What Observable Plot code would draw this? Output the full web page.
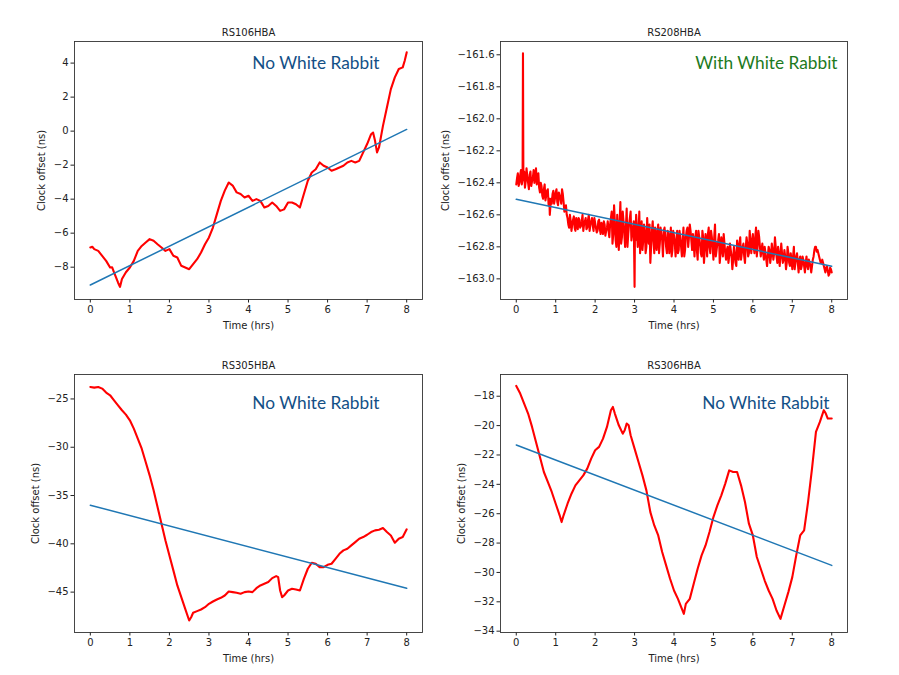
<!DOCTYPE html>
<html><head><meta charset="utf-8">
<script src="https://cdn.jsdelivr.net/npm/d3@7"></script>
<script src="https://cdn.jsdelivr.net/npm/@observablehq/plot@0.6"></script>
<style>
body{margin:0;background:#fff;}
#wrap{position:relative;width:899px;height:675px;overflow:hidden;background:#fff;}
.panel{position:absolute;}
</style></head><body><div id="wrap"></div>
<script>
// ---------- data ----------
const timeTicks = [0,1,2,3,4,5,6,7,8];
const titles = ["RS106HBA","RS208HBA","RS305HBA","RS306HBA"];
const notes = ["No White Rabbit","With White Rabbit","No White Rabbit","No White Rabbit"];
const xLabel = "Time (hrs)";
const yLabel = "Clock offset (ns)";

const rs106 = [[0,-6.84],[0.05,-6.8],[0.1,-6.94],[0.2,-7.04],[0.3,-7.33],[0.4,-7.63],[0.5,-8.02],[0.55,-8.0],[0.6,-8.3],[0.7,-8.9],[0.75,-9.16],[0.8,-8.7],[0.9,-8.3],[1.0,-8.02],[1.1,-7.63],[1.2,-7.04],[1.3,-6.75],[1.4,-6.55],[1.5,-6.35],[1.6,-6.45],[1.7,-6.65],[1.8,-6.84],[1.9,-7.04],[2.0,-6.94],[2.1,-7.33],[2.2,-7.43],[2.3,-7.92],[2.4,-8.02],[2.5,-8.12],[2.6,-7.82],[2.7,-7.53],[2.8,-7.14],[2.9,-6.65],[3.0,-6.25],[3.1,-5.67],[3.2,-4.88],[3.3,-4.1],[3.4,-3.5],[3.5,-3.02],[3.6,-3.2],[3.7,-3.6],[3.8,-3.7],[3.9,-3.9],[4.0,-3.8],[4.1,-4.1],[4.2,-4.0],[4.3,-4.1],[4.4,-4.49],[4.5,-4.4],[4.6,-4.2],[4.7,-4.4],[4.8,-4.69],[4.9,-4.6],[5.0,-4.2],[5.1,-4.2],[5.2,-4.3],[5.3,-4.49],[5.4,-3.7],[5.5,-2.92],[5.6,-2.43],[5.7,-2.24],[5.8,-1.84],[5.9,-2.04],[6.0,-2.14],[6.1,-2.33],[6.2,-2.24],[6.3,-2.14],[6.4,-2.04],[6.5,-1.84],[6.6,-1.75],[6.7,-1.84],[6.8,-1.75],[6.9,-1.25],[7.0,-0.76],[7.1,-0.18],[7.15,-0.08],[7.2,-0.57],[7.25,-1.25],[7.3,-0.96],[7.4,0.31],[7.5,1.39],[7.6,2.47],[7.7,3.16],[7.8,3.65],[7.9,3.75],[7.95,4.14],[8.0,4.63]];

const rs208 = [[0.00,-162.41],[0.04,-162.34],[0.08,-162.40],[0.12,-162.32],[0.16,-162.38],[0.17,-161.59],[0.18,-162.36],[0.22,-162.43],[0.26,-162.31],[0.30,-162.40],[0.34,-162.35],[0.38,-162.42],[0.42,-162.37],[0.46,-162.40],[0.50,-162.31],[0.54,-162.37],[0.58,-162.43],[0.62,-162.40],[0.66,-162.48],[0.70,-162.44],[0.74,-162.51],[0.78,-162.45],[0.82,-162.54],[0.85,-162.60],[0.88,-162.50],[0.92,-162.47],[0.96,-162.53],[1.00,-162.46],[1.04,-162.52],[1.08,-162.46],[1.12,-162.50],[1.16,-162.44],[1.20,-162.52],[1.24,-162.56],[1.28,-162.60],[1.32,-162.66],[1.36,-162.60],[1.40,-162.70],[1.44,-162.63],[1.48,-162.68],[1.52,-162.62],[1.56,-162.69],[1.60,-162.63],[1.64,-162.67],[1.68,-162.60],[1.72,-162.66],[1.76,-162.62],[1.80,-162.68],[1.84,-162.60],[1.88,-162.66],[1.92,-162.62],[1.96,-162.70],[2.00,-162.65],[2.04,-162.71],[2.08,-162.64],[2.12,-162.69],[2.16,-162.65],[2.20,-162.72],[2.24,-162.66],[2.28,-162.70],[2.32,-162.64],[2.36,-162.74],[2.40,-162.62],[2.44,-162.78],[2.48,-162.54],[2.52,-162.76],[2.56,-162.60],[2.60,-162.82],[2.64,-162.52],[2.68,-162.74],[2.72,-162.64],[2.76,-162.80],[2.80,-162.56],[2.84,-162.72],[2.88,-162.62],[2.92,-162.76],[2.96,-162.68],[3.00,-163.05],[3.01,-162.70],[3.04,-162.60],[3.08,-162.80],[3.12,-162.58],[3.16,-162.74],[3.20,-162.82],[3.24,-162.66],[3.28,-162.84],[3.32,-162.62],[3.36,-162.78],[3.40,-162.90],[3.44,-162.70],[3.48,-162.76],[3.52,-162.68],[3.56,-162.82],[3.60,-162.66],[3.64,-162.78],[3.68,-162.72],[3.72,-162.86],[3.76,-162.68],[3.80,-162.80],[3.84,-162.70],[3.88,-162.84],[3.92,-162.68],[3.96,-162.82],[4.00,-162.73],[4.04,-162.86],[4.08,-162.70],[4.12,-162.82],[4.16,-162.74],[4.20,-162.86],[4.24,-162.68],[4.28,-162.82],[4.32,-162.70],[4.36,-162.80],[4.40,-162.66],[4.44,-162.76],[4.48,-162.72],[4.52,-162.86],[4.56,-162.70],[4.60,-162.88],[4.64,-162.74],[4.68,-162.84],[4.72,-162.70],[4.76,-162.90],[4.80,-162.72],[4.84,-162.86],[4.88,-162.68],[4.92,-162.84],[4.96,-162.74],[5.00,-162.88],[5.04,-162.66],[5.08,-162.82],[5.12,-162.76],[5.16,-162.90],[5.20,-162.74],[5.24,-162.86],[5.28,-162.78],[5.32,-162.88],[5.36,-162.80],[5.40,-162.86],[5.44,-162.82],[5.48,-162.94],[5.52,-162.80],[5.56,-162.90],[5.60,-162.76],[5.64,-162.88],[5.68,-162.74],[5.72,-162.84],[5.76,-162.78],[5.80,-162.90],[5.84,-162.74],[5.88,-162.86],[5.92,-162.70],[5.96,-162.84],[6.00,-162.72],[6.04,-162.84],[6.08,-162.68],[6.12,-162.80],[6.16,-162.74],[6.20,-162.86],[6.24,-162.78],[6.28,-162.88],[6.32,-162.84],[6.36,-162.92],[6.40,-162.80],[6.44,-162.90],[6.48,-162.78],[6.52,-162.88],[6.56,-162.74],[6.60,-162.86],[6.64,-162.80],[6.68,-162.92],[6.72,-162.78],[6.76,-162.90],[6.80,-162.82],[6.84,-162.94],[6.88,-162.80],[6.92,-162.90],[6.96,-162.84],[7.00,-162.94],[7.04,-162.80],[7.08,-162.90],[7.12,-162.84],[7.16,-162.96],[7.20,-162.86],[7.24,-162.92],[7.28,-162.88],[7.32,-162.96],[7.36,-162.86],[7.40,-162.94],[7.44,-162.90],[7.48,-162.96],[7.52,-162.88],[7.56,-162.82],[7.60,-162.80],[7.64,-162.82],[7.68,-162.86],[7.72,-162.90],[7.76,-162.88],[7.80,-162.92],[7.84,-162.96],[7.88,-162.92],[7.92,-162.98],[7.96,-162.93],[8.00,-162.96]];

// in-between samples of the same RS208HBA record (denser noise band)
const rs208mid = [[0.02,-162.37],[0.06,-162.42],[0.10,-162.35],[0.14,-162.41],[0.20,-162.33],[0.24,-162.39],[0.28,-162.36],[0.32,-162.44],[0.36,-162.33],[0.40,-162.39],[0.44,-162.32],[0.48,-162.36],[0.52,-162.41],[0.56,-162.34],[0.60,-162.46],[0.64,-162.42],[0.68,-162.50],[0.72,-162.41],[0.76,-162.48],[0.80,-162.44],[0.84,-162.50],[0.90,-162.53],[0.94,-162.45],[0.98,-162.50],[1.02,-162.44],[1.06,-162.54],[1.10,-162.48],[1.14,-162.53],[1.18,-162.47],[1.22,-162.58],[1.26,-162.54],[1.30,-162.62],[1.34,-162.68],[1.38,-162.64],[1.42,-162.66],[1.46,-162.61],[1.50,-162.70],[1.54,-162.65],[1.58,-162.62],[1.62,-162.68],[1.66,-162.64],[1.70,-162.70],[1.74,-162.64],[1.78,-162.69],[1.82,-162.63],[1.86,-162.70],[1.90,-162.64],[1.94,-162.67],[1.98,-162.62],[2.02,-162.68],[2.06,-162.70],[2.10,-162.63],[2.14,-162.72],[2.18,-162.67],[2.22,-162.64],[2.26,-162.73],[2.30,-162.68],[2.34,-162.70],[2.38,-162.66],[2.42,-162.58],[2.46,-162.72],[2.50,-162.64],[2.54,-162.80],[2.58,-162.70],[2.62,-162.66],[2.66,-162.78],[2.70,-162.58],[2.74,-162.72],[2.78,-162.68],[2.82,-162.80],[2.86,-162.66],[2.90,-162.58],[2.94,-162.72],[2.98,-162.64],[3.02,-162.76],[3.06,-162.68],[3.10,-162.72],[3.14,-162.84],[3.18,-162.64],[3.22,-162.76],[3.26,-162.70],[3.30,-162.80],[3.34,-162.72],[3.38,-162.66],[3.42,-162.80],[3.46,-162.64],[3.50,-162.84],[3.54,-162.74],[3.58,-162.70],[3.62,-162.84],[3.66,-162.68],[3.70,-162.76],[3.74,-162.70],[3.78,-162.74],[3.82,-162.84],[3.86,-162.72],[3.90,-162.78],[3.94,-162.86],[3.98,-162.70],[4.02,-162.78],[4.06,-162.76],[4.10,-162.84],[4.14,-162.70],[4.18,-162.80],[4.22,-162.76],[4.26,-162.86],[4.30,-162.74],[4.34,-162.68],[4.38,-162.74],[4.42,-162.70],[4.46,-162.82],[4.50,-162.78],[4.54,-162.74],[4.58,-162.82],[4.62,-162.70],[4.66,-162.78],[4.70,-162.86],[4.74,-162.74],[4.78,-162.82],[4.82,-162.76],[4.86,-162.72],[4.90,-162.80],[4.94,-162.70],[4.98,-162.80],[5.02,-162.74],[5.06,-162.86],[5.10,-162.78],[5.14,-162.72],[5.18,-162.84],[5.22,-162.80],[5.26,-162.72],[5.30,-162.84],[5.34,-162.82],[5.38,-162.90],[5.42,-162.78],[5.46,-162.86],[5.50,-162.88],[5.54,-162.84],[5.58,-162.92],[5.62,-162.82],[5.66,-162.78],[5.70,-162.88],[5.74,-162.80],[5.78,-162.86],[5.82,-162.80],[5.86,-162.78],[5.90,-162.84],[5.94,-162.78],[5.98,-162.76],[6.02,-162.80],[6.06,-162.74],[6.10,-162.86],[6.14,-162.70],[6.18,-162.80],[6.22,-162.82],[6.26,-162.84],[6.30,-162.80],[6.34,-162.88],[6.38,-162.86],[6.42,-162.82],[6.46,-162.86],[6.50,-162.82],[6.54,-162.84],[6.58,-162.80],[6.62,-162.90],[6.66,-162.84],[6.70,-162.86],[6.74,-162.84],[6.78,-162.88],[6.82,-162.86],[6.86,-162.90],[6.90,-162.84],[6.94,-162.92],[6.98,-162.88],[7.02,-162.86],[7.06,-162.94],[7.10,-162.86],[7.14,-162.90],[7.18,-162.88],[7.22,-162.94],[7.26,-162.86],[7.30,-162.92],[7.34,-162.90],[7.38,-162.92],[7.42,-162.88],[7.46,-162.92],[7.50,-162.92],[7.54,-162.86],[7.58,-162.80],[7.62,-162.83],[7.66,-162.84],[7.70,-162.88],[7.74,-162.90],[7.78,-162.90],[7.82,-162.94],[7.86,-162.93],[7.90,-162.95],[7.94,-162.97],[7.98,-162.94]];

const rs305 = [[0,-23.76],[0.1,-23.83],[0.2,-23.76],[0.3,-23.93],[0.4,-24.34],[0.5,-24.62],[0.6,-25.14],[0.7,-25.66],[0.8,-26.17],[0.9,-26.62],[1.0,-27.21],[1.1,-28.07],[1.2,-29.11],[1.3,-30.15],[1.4,-31.53],[1.5,-32.91],[1.6,-34.46],[1.7,-36.19],[1.8,-37.92],[1.9,-39.65],[2.0,-41.2],[2.1,-42.75],[2.2,-44.31],[2.3,-45.52],[2.4,-46.73],[2.5,-47.94],[2.55,-47.6],[2.6,-47.14],[2.7,-46.97],[2.8,-46.8],[2.9,-46.56],[3.0,-46.21],[3.1,-45.97],[3.2,-45.76],[3.3,-45.59],[3.4,-45.35],[3.5,-44.93],[3.6,-45.0],[3.7,-45.07],[3.8,-45.17],[3.9,-45.0],[4.0,-44.93],[4.1,-45.0],[4.2,-44.59],[4.3,-44.31],[4.4,-44.14],[4.5,-43.96],[4.6,-43.55],[4.7,-43.34],[4.75,-43.45],[4.8,-44.83],[4.85,-45.52],[4.9,-45.35],[5.0,-44.83],[5.1,-44.66],[5.2,-44.73],[5.3,-44.83],[5.4,-43.62],[5.5,-42.58],[5.6,-41.96],[5.7,-42.06],[5.8,-42.41],[5.9,-42.41],[6.0,-42.17],[6.1,-42.06],[6.2,-41.55],[6.3,-41.03],[6.4,-40.68],[6.5,-40.51],[6.6,-40.16],[6.7,-39.82],[6.8,-39.47],[6.9,-39.3],[7.0,-39.06],[7.1,-38.78],[7.2,-38.61],[7.3,-38.54],[7.4,-38.37],[7.5,-38.78],[7.6,-39.13],[7.7,-39.89],[7.8,-39.47],[7.9,-39.3],[8.0,-38.5]];

const rs306 = [[0,-17.3],[0.1,-17.82],[0.2,-18.5],[0.3,-19.18],[0.4,-20.09],[0.5,-21.11],[0.6,-22.14],[0.7,-23.16],[0.8,-23.84],[0.9,-24.52],[1.0,-25.32],[1.1,-26.11],[1.15,-26.57],[1.2,-26.11],[1.3,-25.32],[1.4,-24.64],[1.5,-24.07],[1.6,-23.73],[1.7,-23.39],[1.8,-22.93],[1.9,-22.25],[2.0,-21.68],[2.1,-21.45],[2.2,-20.89],[2.3,-20.09],[2.4,-18.95],[2.45,-18.73],[2.5,-19.18],[2.6,-19.98],[2.7,-20.55],[2.75,-20.32],[2.8,-19.86],[2.85,-19.98],[2.9,-20.66],[3.0,-21.57],[3.1,-22.48],[3.2,-23.39],[3.3,-24.41],[3.4,-25.89],[3.5,-26.8],[3.6,-27.48],[3.7,-28.61],[3.8,-29.52],[3.9,-30.43],[4.0,-31.23],[4.1,-31.8],[4.2,-32.48],[4.25,-32.82],[4.3,-32.14],[4.4,-31.8],[4.5,-30.77],[4.6,-29.75],[4.7,-28.84],[4.8,-28.16],[4.9,-27.25],[5.0,-26.23],[5.1,-25.43],[5.2,-24.75],[5.3,-23.95],[5.4,-23.05],[5.5,-23.16],[5.6,-23.16],[5.7,-24.07],[5.8,-25.2],[5.9,-26.68],[6.0,-27.48],[6.1,-28.95],[6.2,-29.75],[6.3,-30.55],[6.4,-31.23],[6.5,-31.8],[6.6,-32.59],[6.7,-33.16],[6.8,-32.25],[6.9,-31.34],[7.0,-30.32],[7.1,-28.84],[7.2,-27.48],[7.3,-27.14],[7.4,-25.2],[7.5,-22.93],[7.6,-20.43],[7.7,-19.75],[7.8,-18.95],[7.85,-19.18],[7.9,-19.52],[8.0,-19.52]];

const fit106 = [[0,-9.05],[8,0.1]];
const fit208 = [[0,-162.503],[8,-162.921]];
const fit305 = [[0,-36.0],[8,-44.6]];
const fit306 = [[0,-21.32],[8,-29.52]];

const yTicks106 = [-8,-6,-4,-2,0,2,4];
const yTicks208 = [-163.0,-162.8,-162.6,-162.4,-162.2,-162.0,-161.8,-161.6];
const yTicks305 = [-45,-40,-35,-30,-25];
const yTicks306 = [-34,-32,-30,-28,-26,-24,-22,-20,-18];

// merged RS208HBA table, ordered by time
const rs208all = rs208.concat(rs208mid).sort((a, b) => a[0] - b[0]);

// ---------- layout ----------
const panels = [
  {series: rs106, fit: fit106, ticks: yTicks106, fmt: d3.format("d"), yDomain: [-9.9, 5.27],
   left: 0, top: 0, w: 450, h: 337, ml: 74, mr: 28, mt: 41, mb: 38, yOff: 37, noteDx: -43, noteDy: 22, noteColor: "#134f86"},
  {series: rs208all, fit: fit208, ticks: yTicks208, fmt: d3.format(".1f"), yDomain: [-163.129, -161.517],
   left: 450, top: 0, w: 449, h: 337, ml: 50, mr: 52, mt: 41, mb: 38, yOff: 59, noteDx: -10, noteDy: 22, noteColor: "#1d7a1d"},
  {series: rs305, fit: fit305, ticks: yTicks305, fmt: d3.format("d"), yDomain: [-49.18, -22.47],
   left: 0, top: 337, w: 450, h: 338, ml: 74, mr: 28, mt: 37, mb: 43, yOff: 43, noteDx: -43, noteDy: 29, noteColor: "#134f86"},
  {series: rs306, fit: fit306, ticks: yTicks306, fmt: d3.format("d"), yDomain: [-34.09, -16.52],
   left: 450, top: 337, w: 449, h: 338, ml: 50, mr: 52, mt: 37, mb: 43, yOff: 43, noteDx: -18, noteDy: 29, noteColor: "#134f86"}
];

const wrap = document.getElementById("wrap");
panels.forEach((p, i) => {
  const chart = Plot.plot({
    width: p.w, height: p.h,
    marginLeft: p.ml, marginRight: p.mr, marginTop: p.mt, marginBottom: p.mb,
    style: {fontFamily: "DejaVu Sans", fontSize: "10px", background: "white", color: "#222", overflow: "visible"},
    x: {domain: [-0.4, 8.4]},
    y: {domain: p.yDomain},
    marks: [
      Plot.axisX({ticks: timeTicks, tickSize: 3.5, tickPadding: 2.5, tickFormat: d3.format("d"),
        label: xLabel, labelAnchor: "center", labelArrow: "none", labelOffset: 29, fontSize: 10}),
      Plot.axisY({ticks: p.ticks, tickSize: 3.5, tickPadding: 2.5, tickFormat: p.fmt,
        label: yLabel, labelAnchor: "center", labelArrow: "none", labelOffset: p.yOff, fontSize: 10}),
      Plot.line(p.series, {x: d => d[0], y: d => d[1], stroke: "#ff0000", strokeWidth: 2.1, strokeLinejoin: "round"}),
      Plot.line(p.fit, {x: d => d[0], y: d => d[1], stroke: "#1f77b4", strokeWidth: 1.5}),
      Plot.frame({stroke: "#333", strokeWidth: 0.9}),
      Plot.text([titles[i]], {text: d => d, frameAnchor: "top", lineAnchor: "bottom", dy: -6, fontSize: 10, fill: "#222"}),
      Plot.text([notes[i]], {text: d => d, frameAnchor: "top-right", textAnchor: "end", lineAnchor: "middle",
        dx: p.noteDx, dy: p.noteDy, fontSize: 17.3, fontFamily: "Lato", fill: p.noteColor})
    ]
  });
  chart.classList.add("panel");
  chart.style.left = p.left + "px";
  chart.style.top = p.top + "px";
  wrap.appendChild(chart);
});
</script>
</body></html>
